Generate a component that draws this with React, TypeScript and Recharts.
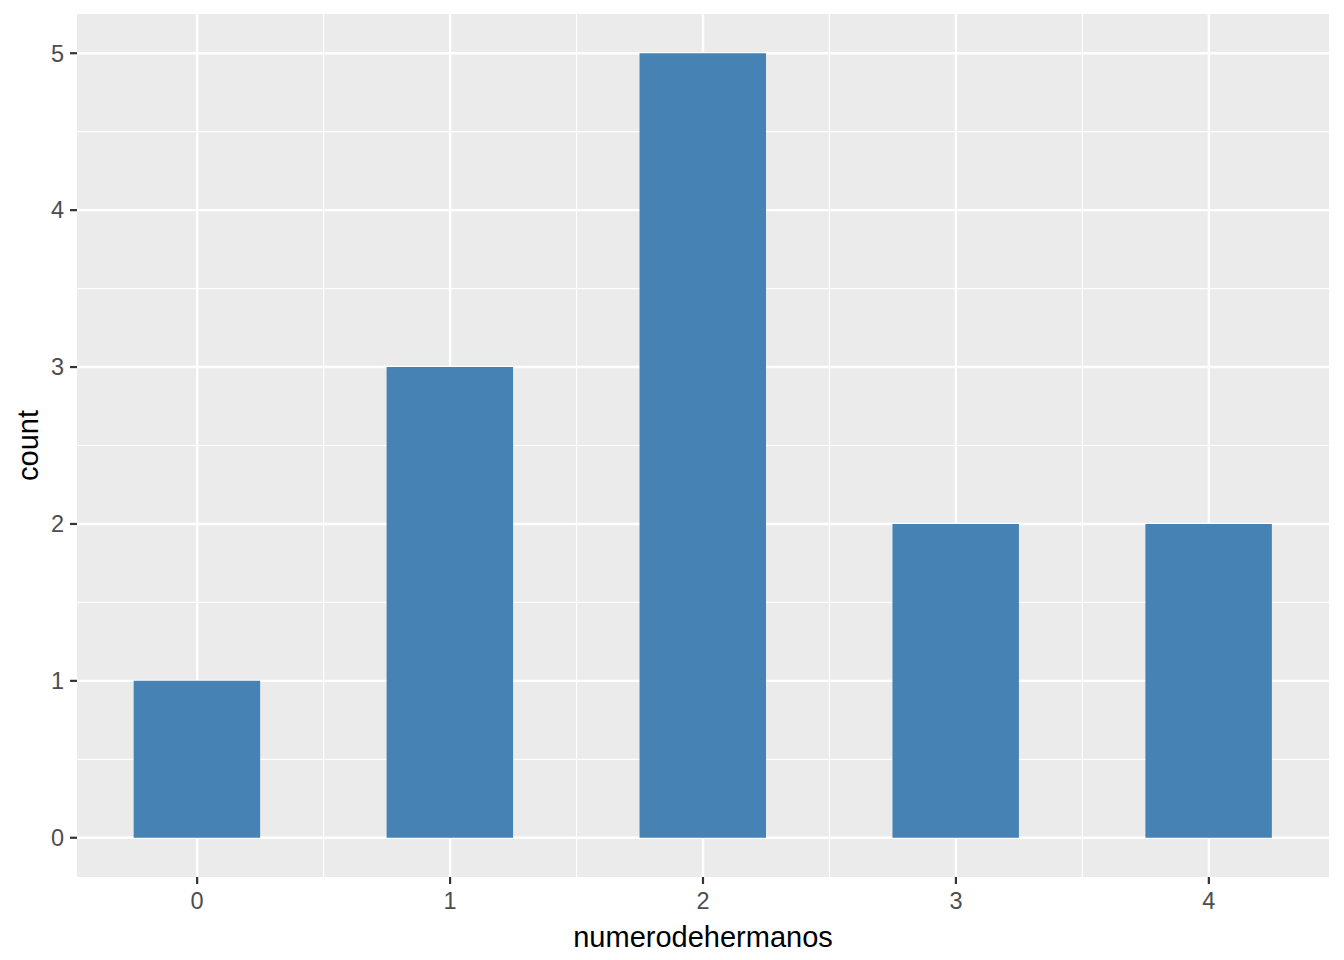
import React from "react";
import {
  BarChart,
  Bar,
  XAxis,
  YAxis,
  CartesianGrid,
  Label,
} from "recharts";

const hermanos = [0, 1, 2, 3, 4];
const counts = [1, 3, 5, 2, 2];
const yTicks = [0, 1, 2, 3, 4, 5];
const yMinor = [0.5, 1.5, 2.5, 3.5, 4.5];
const xMinor = [0.5, 1.5, 2.5, 3.5];

const W = 1344;
const H = 960;
const M = { top: 14, right: 15, bottom: 0, left: 0 };
const Y_AXIS_W = 77;
const X_AXIS_H = 83;
const X_DOMAIN: [number, number] = [-0.475, 4.475];
const Y_DOMAIN: [number, number] = [-0.25, 5.25];

const FONT = "'Liberation Sans', Arial, sans-serif";
const PANEL = "#EBEBEB";
const BAR = "#4682B4";

const data = hermanos.map((h, i) => ({ numerodehermanos: h, count: counts[i] }));

// ggplot geom_bar width = 0.5 units of the x scale
const plotW = W - M.left - M.right - Y_AXIS_W;
const barSize = (plotW / (X_DOMAIN[1] - X_DOMAIN[0])) * 0.5;

const tickStyle = { fill: "#4D4D4D", fontSize: 23.5, fontFamily: FONT };

export default function App() {
  return (
    <div style={{ width: W, height: H }}>
      <style>{`body{margin:0}`}</style>
      <BarChart width={W} height={H} data={data} margin={M}>
        <CartesianGrid
          fill={PANEL}
          stroke="#FFFFFF"
          strokeWidth={1.2}
          horizontalValues={yMinor}
          verticalValues={xMinor}
        />
        <CartesianGrid
          fill="none"
          stroke="#FFFFFF"
          strokeWidth={2.4}
          horizontalValues={yTicks}
          verticalValues={hermanos}
        />
        <XAxis
          dataKey="numerodehermanos"
          type="number"
          domain={X_DOMAIN}
          allowDataOverflow
          ticks={hermanos}
          interval={0}
          height={X_AXIS_H}
          axisLine={false}
          tickLine={{ stroke: "#333333", strokeWidth: 2.2 }}
          tickSize={7}
          tickMargin={8}
          tick={tickStyle}
        >
          <Label
            value="numerodehermanos"
            position="insideBottom"
            offset={13}
            style={{ fill: "#000000", fontSize: 29, fontFamily: FONT }}
          />
        </XAxis>
        <YAxis
          type="number"
          domain={Y_DOMAIN}
          allowDataOverflow
          ticks={yTicks}
          interval={0}
          width={Y_AXIS_W}
          axisLine={false}
          tickLine={{ stroke: "#333333", strokeWidth: 2.2 }}
          tickSize={7}
          tickMargin={6}
          tick={tickStyle}
        >
          <Label
            content={({ viewBox }: any) => {
              const cx = viewBox.x + 28;
              const cy = viewBox.y + viewBox.height / 2;
              return (
                <text
                  x={cx}
                  y={cy}
                  transform={`rotate(-90, ${cx}, ${cy})`}
                  textAnchor="middle"
                  dominantBaseline="central"
                  fill="#000000"
                  fontSize={29}
                  fontFamily={FONT}
                >
                  count
                </text>
              );
            }}
          />
        </YAxis>
        <Bar
          dataKey="count"
          fill={BAR}
          barSize={barSize}
          isAnimationActive={false}
        />
      </BarChart>
    </div>
  );
}
